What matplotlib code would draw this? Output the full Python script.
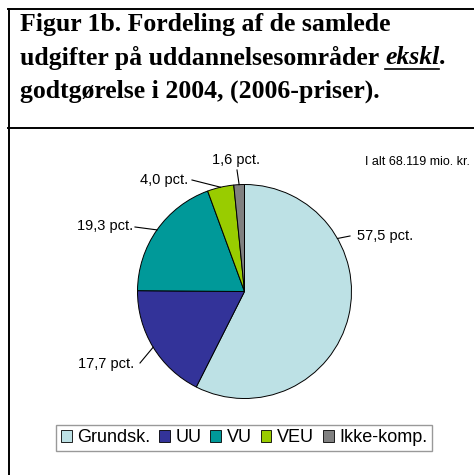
import matplotlib
matplotlib.use("Agg")
import matplotlib.pyplot as plt
import numpy as np
from matplotlib.lines import Line2D
from matplotlib.patches import Patch

categories = ["Grundsk.", "UU", "VU", "VEU", "Ikke-komp."]
values = [57.5, 17.7, 19.3, 4.0, 1.6]
labels = ["57,5 pct.", "17,7 pct.", "19,3 pct.", "4,0 pct.", "1,6 pct."]
colors = ["#BDE1E5", "#333399", "#009999", "#99CC00", "#808080"]
title_lines = ["Figur 1b. Fordeling af de samlede",
               "udgifter på uddannelsesområder ",
               "godtgørelse i 2004, (2006-priser)."]
total_text = "I alt 68.119 mio. kr."

W, H = 474, 475
fig = plt.figure(figsize=(W / 100, H / 100), dpi=100)

cx, cy, R = 244.5, 291.5, 107.0
ax = fig.add_axes([0, 0, 1, 1])
wedges, _ = ax.pie(values, colors=colors, startangle=90, counterclock=False,
                   radius=1.0, center=(0, 0),
                   wedgeprops=dict(edgecolor="black", linewidth=0.7))
ax.set_xlim(-cx / R, (W - cx) / R)
ax.set_ylim((cy - H) / R, cy / R)
ax.set_aspect("auto")
ax.axis("off")

def px(x, y):
    return ((x - cx) / R, (cy - y) / R)

# label positions (pixel) and leader end points
label_pos = [(357, 236, "left"), (134, 364, "right"), (133, 226, "right"),
             (188, 180, "right"), (236, 160, "center")]
line_end = [(350, 236), (140, 363), (135, 227), (192, 180), (237, 170)]
line_start_angle = [29.7, None, None, None, None]

cum = np.cumsum([0] + values[:-1])
tot = sum(values)
lfont = dict(fontsize=10.5, family="Liberation Sans")
for i, (v, c0) in enumerate(zip(values, cum)):
    frac = (c0 + v / 2) / tot
    ang = np.deg2rad(90 - 360 * frac)
    if line_start_angle[i] is not None:
        ang = np.deg2rad(line_start_angle[i])
    sx, sy = np.cos(ang), np.sin(ang)
    ex, ey = px(*line_end[i])
    ax.plot([sx, ex], [sy, ey], color="black", lw=0.8)
    lx, ly, ha = label_pos[i]
    ax.text(*px(lx, ly), labels[i], ha=ha, va="center", **lfont)

ax.text(*px(417, 162), total_text, ha="center", va="center", fontsize=9,
        family="Liberation Sans")

# title
tfont = dict(family="Liberation Serif", weight="bold", fontsize=18.5)
fig.text(20 / W, 1 - 25 / H, title_lines[0], ha="left", va="center", **tfont)
t2 = fig.text(20 / W, 1 - 58 / H, title_lines[1], ha="left", va="center", **tfont)
fig.canvas.draw()
bb = t2.get_window_extent()
t3 = fig.text(bb.x1 / W, 1 - 58 / H, "ekskl", ha="left", va="center",
              style="italic", **tfont)
fig.canvas.draw()
bb3 = t3.get_window_extent()
fig.text(bb3.x1 / W, 1 - 58 / H, ".", ha="left", va="center", **tfont)
fig.add_artist(Line2D([bb3.x0 / W, bb3.x1 / W], [(bb3.y0 + 1) / H] * 2,
                      color="black", lw=1.2))
fig.text(20 / W, 1 - 91 / H, title_lines[2], ha="left", va="center", **tfont)

# frame lines
for xs, ys in [([8.5, 8.5], [9, H]), ([8, W], [9, 9]), ([8, W], [128, 128])]:
    fig.add_artist(Line2D([x / W for x in xs], [1 - y / H for y in ys],
                          color="black", lw=1.4))

handles = [Patch(facecolor=c, edgecolor="black", linewidth=0.6) for c in colors]
leg = fig.legend(handles, categories, loc="center", bbox_to_anchor=(244 / W, 1 - 438 / H),
                 ncol=5, frameon=True, fancybox=False,
                 prop=dict(family="Liberation Sans", size=13),
                 handlelength=0.6, handleheight=0.6, handletextpad=0.3,
                 columnspacing=0.5, borderpad=0.25, borderaxespad=0,
                 edgecolor="#808080")
leg.get_frame().set_linewidth(1.0)

fig.savefig("out.png", dpi=100, facecolor="white")
